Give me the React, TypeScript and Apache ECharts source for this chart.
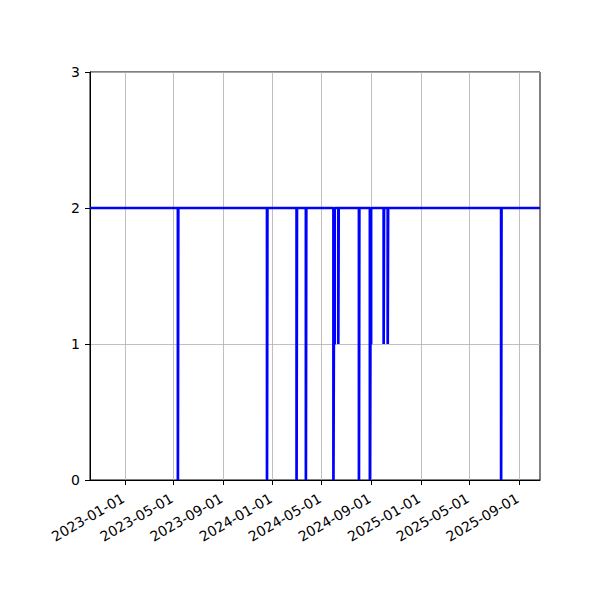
import React, { useEffect, useRef } from "react";
import * as echarts from "echarts";

// step points: the value holds from each date until the next one
const stepDates = [
  "2022-10-07",
  "2023-05-12", "2023-05-13",
  "2023-12-18", "2023-12-19",
  "2024-02-29", "2024-03-01",
  "2024-03-23", "2024-03-24",
  "2024-05-30", "2024-05-31", "2024-06-02",
  "2024-06-11", "2024-06-12",
  "2024-08-01", "2024-08-02",
  "2024-08-28", "2024-08-29", "2024-08-31",
  "2024-10-01", "2024-10-02",
  "2024-10-11", "2024-10-12",
  "2025-07-18", "2025-07-19",
  "2025-10-22",
];
const stepValues = [
  2,
  0, 2,
  0, 2,
  0, 2,
  0, 2,
  0, 1, 2,
  1, 2,
  0, 2,
  0, 1, 2,
  1, 2,
  1, 2,
  0, 2,
  2,
];

const xTicks = [
  "2023-01-01", "2023-05-01", "2023-09-01",
  "2024-01-01", "2024-05-01", "2024-09-01",
  "2025-01-01", "2025-05-01", "2025-09-01",
];
const yTicks = [0, 1, 2, 3];

const pad = (n: number) => (n < 10 ? "0" + n : "" + n);
const toMs = (s: string) => Date.parse(s + "T00:00:00Z");

const App: React.FC = () => {
  const chartRef = useRef<HTMLDivElement | null>(null);

  useEffect(() => {
    if (!chartRef.current) return;
    const chart = echarts.init(chartRef.current, undefined, { renderer: "svg" });

    const font = { fontFamily: "DejaVu Sans", fontSize: 14, color: "#000" };
    const tickMs = xTicks.map(toMs);

    chart.setOption({
      animation: false,
      backgroundColor: "#fff",
      grid: {
        left: 90,
        right: 60,
        top: 72,
        bottom: 120,
        show: true,
        borderColor: "#000",
        borderWidth: 1,
      },
      xAxis: {
        type: "value",
        min: toMs(stepDates[0]),
        max: toMs(stepDates[stepDates.length - 1]),
        axisLine: { show: true, lineStyle: { color: "#000", width: 1 } },
        axisTick: { show: true, length: 5, customValues: tickMs, lineStyle: { color: "#000" } },
        splitLine: { show: true, lineStyle: { color: "#b0b0b0", width: 0.8 } },
        axisLabel: {
          ...font,
          rotate: 30,
          margin: 16,
          padding: [0, 2, 0, 0],
          customValues: tickMs,
          showMinLabel: true,
          showMaxLabel: true,
          formatter: (v: number) => {
            const d = new Date(v);
            return d.getUTCFullYear() + "-" + pad(d.getUTCMonth() + 1) + "-" + pad(d.getUTCDate());
          },
        },
      },
      yAxis: {
        type: "value",
        min: yTicks[0],
        max: yTicks[yTicks.length - 1],
        interval: 1,
        axisLine: { show: true, lineStyle: { color: "#000", width: 1 } },
        axisTick: { show: true, length: 5, lineStyle: { color: "#000" } },
        splitLine: { show: true, lineStyle: { color: "#b0b0b0", width: 0.8 } },
        axisLabel: { ...font, margin: 10 },
      },
      series: [
        {
          type: "line",
          step: "end",
          showSymbol: false,
          lineStyle: { color: "#0000ff", width: 2.7 },
          itemStyle: { color: "#0000ff" },
          data: stepDates.map((d, i) => [toMs(d), stepValues[i]]),
        },
      ],
    });

    return () => {
      chart.dispose();
    };
  }, []);

  return (
    <div
      ref={chartRef}
      style={{ position: "absolute", left: 0, top: 0, width: 600, height: 600 }}
    />
  );
};

export default App;
